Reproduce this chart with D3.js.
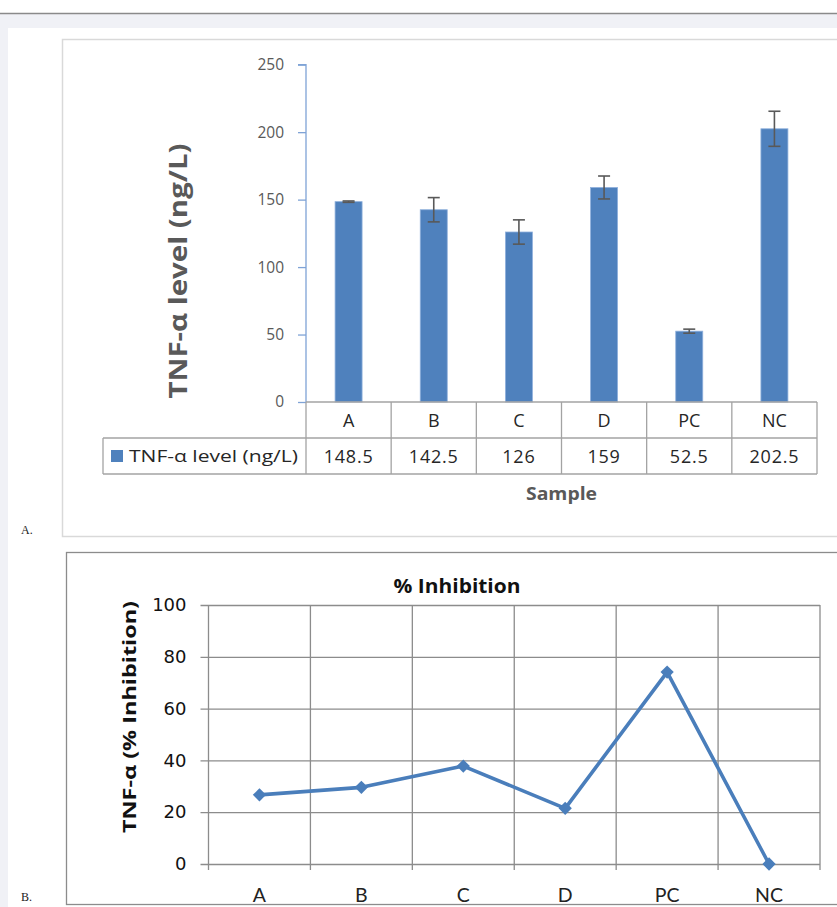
<!DOCTYPE html>
<html><head><meta charset="utf-8">
<script src="https://cdn.jsdelivr.net/npm/d3@7"></script>
<style>body{margin:0;padding:0;background:#fff;} svg{display:block;}</style>
</head><body>
<script>
// ---- data ----
const categories = ["A", "B", "C", "D", "PC", "NC"];
const tnfLevel = [148.5, 142.5, 126, 159, 52.5, 202.5];
const tnfError = [0.5, 9, 9, 8.5, 1.5, 13];
const inhibition = [26.7, 29.6, 37.8, 21.5, 74.1, 0];
const tickA = [0, 50, 100, 150, 200, 250];
const tickB = [0, 20, 40, 60, 80, 100];
const seriesNameA = "TNF-α level (ng/L)";

const W = 837, H = 907;
const OS = "'Open Sans', sans-serif";
const svg = d3.select("body").append("svg").attr("width", W).attr("height", H);

// page background
svg.append("rect").attr("width", W).attr("height", H).attr("fill", "#fff");
svg.append("rect").attr("x", 0).attr("y", 14).attr("width", W).attr("height", H - 14).attr("fill", "#f0f1f6");
svg.append("line").attr("x1", 0).attr("x2", W).attr("y1", 13.5).attr("y2", 13.5).attr("stroke", "#8a8a8a").attr("stroke-width", 1.5);
svg.append("rect").attr("x", 8).attr("y", 28).attr("width", W - 8).attr("height", H - 28).attr("fill", "#fff");

// ================= Chart A =================
svg.append("rect").attr("x", 62.5).attr("y", 39.5).attr("width", 800).attr("height", 497)
  .attr("fill", "#fff").attr("stroke", "#d9d9d9").attr("stroke-width", 1.5);

const yA = d3.scaleLinear().domain([0, 250]).range([402, 64.7]);
const xA = d3.scaleBand().domain(categories).range([306, 817]).padding(0);
const gA = svg.append("g");

const axA = gA.append("g").attr("transform", "translate(306,0)")
  .call(d3.axisLeft(yA).tickValues(tickA).tickSize(8).tickPadding(14));
axA.select(".domain").attr("stroke", "#7fa3d6").attr("stroke-width", 1.3).attr("d", `M-8,${yA(250)}H0V${yA(0)}`);
axA.selectAll(".tick line").attr("stroke", "#7fa3d6").attr("stroke-width", 1.3);
axA.selectAll(".tick text").attr("font-family", OS).attr("font-size", 15.5).attr("fill", "#595959");

// bars
const bw = 27;
gA.selectAll("rect.bar").data(categories).join("rect").attr("class", "bar")
  .attr("x", d => xA(d) + xA.bandwidth() / 2 - bw / 2)
  .attr("width", bw)
  .attr("y", (d, i) => yA(tnfLevel[i]))
  .attr("height", (d, i) => yA(0) - yA(tnfLevel[i]))
  .attr("fill", "#4f81bd").attr("stroke", "#8fb0dc").attr("stroke-width", 0.8);

// error bars
const eb = gA.selectAll("g.err").data(categories).join("g").attr("class", "err")
  .attr("stroke", "#595959").attr("stroke-width", 1.6);
eb.append("line")
  .attr("x1", d => xA(d) + xA.bandwidth() / 2).attr("x2", d => xA(d) + xA.bandwidth() / 2)
  .attr("y1", (d, i) => yA(tnfLevel[i] + tnfError[i])).attr("y2", (d, i) => yA(tnfLevel[i] - tnfError[i]));
[1, -1].forEach(s => {
  eb.append("line")
    .attr("x1", d => xA(d) + xA.bandwidth() / 2 - 6).attr("x2", d => xA(d) + xA.bandwidth() / 2 + 6)
    .attr("y1", (d, i) => yA(tnfLevel[i] + s * tnfError[i])).attr("y2", (d, i) => yA(tnfLevel[i] + s * tnfError[i]));
});

// data table
const tblStroke = "#a3a3a3";
const rowTop = 402, rowMid = 438, rowBot = 474, legLeft = 103;
gA.append("line").attr("x1", 306).attr("x2", 817).attr("y1", rowTop).attr("y2", rowTop).attr("stroke", tblStroke).attr("stroke-width", 1.3);
[rowMid, rowBot].forEach(y => gA.append("line").attr("x1", legLeft).attr("x2", 817).attr("y1", y).attr("y2", y).attr("stroke", tblStroke).attr("stroke-width", 1.3));
gA.append("line").attr("x1", legLeft).attr("x2", legLeft).attr("y1", rowMid).attr("y2", rowBot).attr("stroke", tblStroke).attr("stroke-width", 1.3);
const bounds = categories.map(c => xA(c)).concat([xA.range()[1]]);
gA.selectAll("line.vb").data(bounds).join("line").attr("class", "vb")
  .attr("x1", d => d).attr("x2", d => d).attr("y1", rowTop).attr("y2", rowBot)
  .attr("stroke", tblStroke).attr("stroke-width", 1.3);
gA.selectAll("text.cat").data(categories).join("text").attr("class", "cat")
  .attr("x", d => xA(d) + xA.bandwidth() / 2).attr("y", (rowTop + rowMid) / 2 + 6.5)
  .attr("text-anchor", "middle").attr("font-family", OS).attr("font-size", 18).attr("fill", "#262626")
  .text(d => d);
gA.selectAll("text.val").data(categories).join("text").attr("class", "val")
  .attr("x", d => xA(d) + xA.bandwidth() / 2).attr("y", (rowMid + rowBot) / 2 + 6.5)
  .attr("text-anchor", "middle").attr("font-family", OS).attr("font-size", 18).attr("letter-spacing", 0.8).attr("fill", "#262626")
  .text((d, i) => tnfLevel[i]);
gA.append("rect").attr("x", 111).attr("y", 450).attr("width", 12).attr("height", 12).attr("fill", "#4f81bd");
gA.append("text").attr("x", 129).attr("y", 462).attr("font-family", OS).attr("font-size", 17).attr("fill", "#262626")
  .attr("textLength", 169).attr("lengthAdjust", "spacingAndGlyphs")
  .text(seriesNameA);

gA.append("text").attr("x", 561.5).attr("y", 500).attr("text-anchor", "middle")
  .attr("font-family", OS).attr("font-weight", "bold").attr("font-size", 18).attr("fill", "#595959")
  .attr("textLength", 71).attr("lengthAdjust", "spacingAndGlyphs").text("Sample");
gA.append("text").attr("transform", "translate(187,271) rotate(-90)").attr("text-anchor", "middle")
  .attr("font-family", OS).attr("font-weight", "bold").attr("font-size", 25).attr("fill", "#595959")
  .attr("textLength", 255).attr("lengthAdjust", "spacingAndGlyphs").text(seriesNameA);

svg.append("text").attr("x", 21).attr("y", 534).attr("font-family", "Liberation Serif, serif").attr("font-size", 12).attr("fill", "#222").text("A.");

// ================= Chart B =================
svg.append("rect").attr("x", 66.5).attr("y", 552.5).attr("width", 800).attr("height", 352)
  .attr("fill", "#fff").attr("stroke", "#8c8c8c").attr("stroke-width", 1.3);

const yB = d3.scaleLinear().domain([0, 100]).range([864, 605]);
const xB = d3.scaleBand().domain(categories).range([208.5, 820]).padding(0);
const gB = svg.append("g");
const grid = "#8c8c8c";

// horizontal gridlines + y ticks
const axB = gB.append("g").attr("transform", "translate(208.5,0)")
  .call(d3.axisLeft(yB).tickValues(tickB).tickSize(8).tickPadding(14));
axB.select(".domain").remove();
axB.selectAll(".tick line").attr("stroke", grid).attr("stroke-width", 1.3).attr("x2", 820 - 208.5).attr("x1", -8);
axB.selectAll(".tick text").attr("font-family", "DejaVu Sans, sans-serif").attr("font-size", 18).attr("fill", "#111");

// vertical gridlines
const boundsB = categories.map(c => xB(c)).concat([xB.range()[1]]);
gB.selectAll("line.vg").data(boundsB).join("line").attr("class", "vg")
  .attr("x1", d => d).attr("x2", d => d).attr("y1", yB(100)).attr("y2", yB(0) + 6)
  .attr("stroke", grid).attr("stroke-width", 1.3);

// x labels
gB.selectAll("text.xl").data(categories).join("text").attr("class", "xl")
  .attr("x", d => xB(d) + xB.bandwidth() / 2).attr("y", 902)
  .attr("text-anchor", "middle").attr("font-family", "Lato, sans-serif").attr("font-size", 19.5).attr("fill", "#222")
  .text(d => d);

// line
const pts = categories.map((c, i) => [xB(c) + xB.bandwidth() / 2, yB(inhibition[i])]);
gB.append("path").attr("d", d3.line()(pts)).attr("fill", "none").attr("stroke", "#4a7ebb").attr("stroke-width", 3.6).attr("stroke-linejoin", "round");
gB.selectAll("path.mk").data(pts).join("path").attr("class", "mk")
  .attr("d", d3.symbol(d3.symbolSquare, 88)())
  .attr("transform", d => `translate(${d[0]},${d[1]}) rotate(45)`)
  .attr("fill", "#4a7ebb");

gB.append("text").attr("x", 457).attr("y", 593).attr("text-anchor", "middle")
  .attr("font-family", OS).attr("font-weight", "bold").attr("font-size", 19.5).attr("fill", "#111")
  .attr("textLength", 127).attr("lengthAdjust", "spacingAndGlyphs").text("% Inhibition");
gB.append("text").attr("transform", "translate(136,717) rotate(-90)").attr("text-anchor", "middle")
  .attr("font-family", OS).attr("font-weight", "bold").attr("font-size", 18.5).attr("fill", "#111")
  .attr("textLength", 232).attr("lengthAdjust", "spacingAndGlyphs").text("TNF-α (% Inhibition)");

svg.append("text").attr("x", 21).attr("y", 901).attr("font-family", "Liberation Serif, serif").attr("font-size", 12).attr("fill", "#222").text("B.");
</script>
</body></html>
